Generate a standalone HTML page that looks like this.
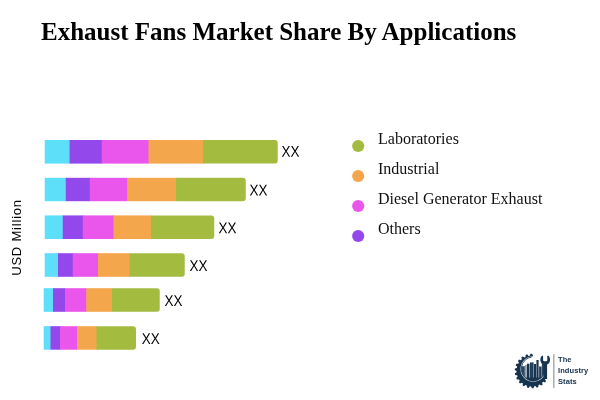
<!DOCTYPE html>
<html>
<head>
<meta charset="utf-8">
<title>Exhaust Fans Market Share By Applications</title>
<style>
html,body{margin:0;padding:0;background:#fff;}
body{width:600px;height:400px;position:relative;overflow:hidden;font-family:"Liberation Serif",serif;color:#000;}
#title{position:absolute;left:41px;top:17px;margin:0;font-family:"Liberation Serif",serif;font-weight:bold;font-size:25px;line-height:30px;white-space:nowrap;color:#000;}
#chart{position:absolute;left:0;top:0;width:600px;height:400px;}
.lg{position:absolute;left:378px;font-family:"Liberation Serif",serif;font-size:16px;line-height:18px;white-space:nowrap;color:#111;}
.xx{font-family:"Liberation Sans",sans-serif;font-size:15.5px;fill:#000;}
.ylab{font-family:"Liberation Sans",sans-serif;font-size:13px;fill:#000;letter-spacing:0.8px;}
.lt{position:absolute;left:558px;font-family:"Liberation Sans",sans-serif;font-weight:bold;font-size:7.5px;line-height:9px;color:#14304a;white-space:nowrap;letter-spacing:0.1px;}
</style>
</head>
<body>
<svg id="chart" width="600" height="400" viewBox="0 0 600 400">
<defs></defs>
<g><rect x="44.7" y="140.0" width="25.50" height="23.60" fill="#5ddef9"/><rect x="69.6" y="140.0" width="32.75" height="23.60" fill="#9348ec"/><rect x="101.75" y="140.0" width="47.35" height="23.60" fill="#ea55ec"/><rect x="148.5" y="140.0" width="55.10" height="23.60" fill="#f4a64c"/><path d="M203,140.0H274.75A3,3 0 0 1 277.75,143.0V160.6A3,3 0 0 1 274.75,163.6H203Z" fill="#a3bc40"/></g>
<g><rect x="44.7" y="177.8" width="21.65" height="23.40" fill="#5ddef9"/><rect x="65.75" y="177.8" width="24.60" height="23.40" fill="#9348ec"/><rect x="89.75" y="177.8" width="38.10" height="23.40" fill="#ea55ec"/><rect x="127.25" y="177.8" width="49.35" height="23.40" fill="#f4a64c"/><path d="M176,177.8H242.75A3,3 0 0 1 245.75,180.8V198.2A3,3 0 0 1 242.75,201.2H176Z" fill="#a3bc40"/></g>
<g><rect x="44.7" y="215.4" width="18.65" height="23.60" fill="#5ddef9"/><rect x="62.75" y="215.4" width="20.60" height="23.60" fill="#9348ec"/><rect x="82.75" y="215.4" width="31.35" height="23.60" fill="#ea55ec"/><rect x="113.5" y="215.4" width="38.10" height="23.60" fill="#f4a64c"/><path d="M151,215.4H211.25A3,3 0 0 1 214.25,218.4V236.0A3,3 0 0 1 211.25,239.0H151Z" fill="#a3bc40"/></g>
<g><rect x="44.7" y="253.2" width="13.90" height="23.60" fill="#5ddef9"/><rect x="58" y="253.2" width="15.35" height="23.60" fill="#9348ec"/><rect x="72.75" y="253.2" width="25.85" height="23.60" fill="#ea55ec"/><rect x="98" y="253.2" width="31.85" height="23.60" fill="#f4a64c"/><path d="M129.25,253.2H181.75A3,3 0 0 1 184.75,256.2V273.8A3,3 0 0 1 181.75,276.8H129.25Z" fill="#a3bc40"/></g>
<g><rect x="43.7" y="288.2" width="9.90" height="23.60" fill="#5ddef9"/><rect x="53" y="288.2" width="12.60" height="23.60" fill="#9348ec"/><rect x="65" y="288.2" width="21.85" height="23.60" fill="#ea55ec"/><rect x="86.25" y="288.2" width="26.35" height="23.60" fill="#f4a64c"/><path d="M112,288.2H156.75A3,3 0 0 1 159.75,291.2V308.8A3,3 0 0 1 156.75,311.8H112Z" fill="#a3bc40"/></g>
<g><rect x="43.7" y="326.2" width="7.40" height="23.50" fill="#5ddef9"/><rect x="50.5" y="326.2" width="10.10" height="23.50" fill="#9348ec"/><rect x="60" y="326.2" width="17.60" height="23.50" fill="#ea55ec"/><rect x="77" y="326.2" width="20.10" height="23.50" fill="#f4a64c"/><path d="M96.5,326.2H133A3,3 0 0 1 136,329.2V346.7A3,3 0 0 1 133,349.7H96.5Z" fill="#a3bc40"/></g>
<text class="xx" transform="translate(281.5,156.8) scale(0.87,1) rotate(0.03)">XX</text><text class="xx" transform="translate(249.5,195.6) scale(0.87,1) rotate(0.03)">XX</text><text class="xx" transform="translate(218.5,233.3) scale(0.87,1) rotate(0.03)">XX</text><text class="xx" transform="translate(189.5,271) scale(0.87,1) rotate(0.03)">XX</text><text class="xx" transform="translate(164.6,306.1) scale(0.87,1) rotate(0.03)">XX</text><text class="xx" transform="translate(141.8,344) scale(0.87,1) rotate(0.03)">XX</text>
<text class="ylab" transform="translate(21,275.8) rotate(-90)">USD Million</text>
<circle cx="358.2" cy="146" r="6.1" fill="#a3bc40"/><circle cx="358.2" cy="176" r="6.1" fill="#f4a64c"/><circle cx="358.2" cy="206" r="6.1" fill="#ea55ec"/><circle cx="358.2" cy="236" r="6.1" fill="#9348ec"/>
<clipPath id="lgw"><path d="M532.00,371.00L567.32,389.78L563.52,395.63L558.77,400.73L553.20,404.92L546.98,408.09L540.32,410.13L533.40,410.98L526.43,410.61L519.64,409.04L513.22,406.32L507.37,402.52L502.27,397.77L498.08,392.20L494.91,385.98L492.87,379.32L492.02,372.40L492.39,365.43L493.96,358.64L496.68,352.22L500.48,346.37L505.23,341.27L510.80,337.08L517.02,333.91L523.68,331.87L530.60,331.02L534.79,331.10Z"/></clipPath>
<g clip-path="url(#lgw)"><path d="M547.50,371.00L549.28,371.89L549.11,373.56L547.19,374.08L546.87,375.37L548.33,376.72L547.70,378.28L545.71,378.23L545.04,379.38L546.05,381.09L545.01,382.40L543.12,381.80L542.15,382.71L542.64,384.64L541.27,385.61L539.62,384.50L538.44,385.10L538.37,387.09L536.78,387.63L535.51,386.10L534.21,386.34L533.58,388.23L531.90,388.30L531.12,386.47L529.79,386.34L528.66,387.97L527.03,387.57L526.79,385.60L525.56,385.10L524.01,386.35L522.56,385.50L522.89,383.54L521.85,382.71L520.01,383.48L518.86,382.25L519.73,380.47L518.96,379.38L516.98,379.59L516.22,378.10L517.56,376.62L517.13,375.37L515.17,375.01L514.86,373.36L516.56,372.33L516.50,371.00L514.72,370.11L514.89,368.44L516.81,367.92L517.13,366.63L515.67,365.28L516.30,363.72L518.29,363.77L518.96,362.62L517.95,360.91L518.99,359.60L520.88,360.20L521.85,359.29L521.36,357.36L522.73,356.39L524.38,357.50L525.56,356.90L525.63,354.91L527.22,354.37L528.49,355.90L529.79,355.66L530.42,353.77L532.10,353.70L532.88,355.53L534.21,355.66L535.34,354.03L536.97,354.43L537.21,356.40L538.44,356.90L539.99,355.65L541.44,356.50L541.11,358.46L542.15,359.29L543.99,358.52L545.14,359.75L544.27,361.53L545.04,362.62L547.02,362.41L547.78,363.90L546.44,365.38L546.87,366.63L548.83,366.99L549.14,368.64L547.44,369.67ZM520.50,368.90a12.7,12.7 0 1 0 25.4,0a12.7,12.7 0 1 0 -25.4,0Z" fill="#16344e" fill-rule="evenodd"/></g>
<path d="M542.95,375.73A11.9,11.9 0 1 1 531.54,357.12" fill="none" stroke="#16344e" stroke-width="0.9"/>
<clipPath id="lgc"><circle cx="533.2" cy="368.9" r="12.0"/></clipPath>
<g clip-path="url(#lgc)"><rect x="521.2" y="366.2" width="3.6" height="12.0" fill="#2a4861"/><rect x="525.3" y="365.0" width="1.2" height="13.2" fill="#5f778b"/><rect x="526.9" y="363.7" width="2.6" height="14.5" fill="#16344e"/><rect x="530.0" y="362.4" width="3.6" height="15.8" fill="#213f59"/><rect x="534.0" y="364.0" width="2.0" height="14.2" fill="#16344e"/><rect x="536.4" y="360.0" width="2.2" height="18.2" fill="#16344e"/><rect x="539.1" y="366.5" width="2.5" height="11.7" fill="#213f59"/><rect x="541.9" y="362.8" width="2.4" height="15.4" fill="#2a4861"/><rect x="515" y="377.6" width="36" height="8" fill="#16344e"/></g>
<path d="M543.3000000000001,379 V364.6 C541.2,363.6 540.2,361.4 540.4000000000001,359.2 C540.5,357.6 541.2,356.4 542.3000000000001,355.6 L543.1,356.0 V360.2 C543.1,361.6 547.3000000000001,361.6 547.3000000000001,360.2 V356.0 L548.1,355.6 C549.2,356.4 549.9000000000001,357.6 550.0,359.2 C550.2,361.4 549.2,363.6 547.1,364.6 V379 Z" fill="#16344e"/>
<rect x="553.1" y="354.2" width="1.4" height="33.8" fill="#a0a7ad"/>
</svg>
<div id="title">Exhaust Fans Market Share By Applications</div>
<div class="lg" style="top:130px">Laboratories</div>
<div class="lg" style="top:160px">Industrial</div>
<div class="lg" style="top:190px">Diesel Generator Exhaust</div>
<div class="lg" style="top:220px">Others</div>
<div class="lt" style="top:355px">The</div>
<div class="lt" style="top:366px">Industry</div>
<div class="lt" style="top:377px">Stats</div>
</body>
</html>
